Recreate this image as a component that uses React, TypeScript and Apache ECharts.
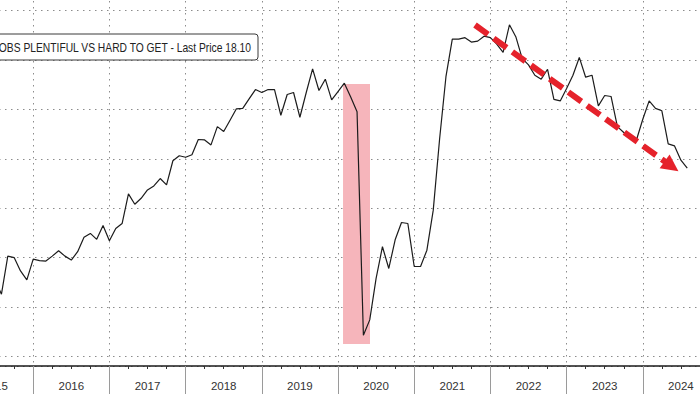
import React, { useEffect, useRef } from "react";
import * as echarts from "echarts";

// ---- data (monthly, plotted at month end) ----
const firstYear = 2015;
const firstMonth = 6; // June 2015
const values2015 = [-4.5, -7.4, 0.3, 0.0, -2.7, -4.5, -0.3];
const values2016 = [-0.6, -0.7, 0.3, 1.4, 0.3, -0.5, 1.2, 4.1, 4.9, 3.7, 6.5, 3.4];
const values2017 = [5.9, 6.9, 12.9, 10.8, 12.0, 13.7, 14.5, 16.0, 14.7, 19.6, 20.6, 20.3];
const values2018 = [20.8, 23.9, 23.8, 22.8, 26.5, 25.5, 27.8, 30.1, 30.2, 32.1, 34.0, 33.4];
const values2019 = [34.0, 34.0, 28.8, 33.0, 33.4, 28.4, 33.4, 38.2, 33.8, 36.1, 31.9, 33.6];
const values2020 = [35.3, 32.5, 29.5, -15.7, -12.6, -4.2, 2.2, -2.2, 3.6, 7.1, 6.9, -1.8];
const values2021 = [-1.8, 1.5, 9.6, 24.0, 36.6, 44.2, 44.2, 44.5, 43.6, 43.8, 44.8, 44.5];
const values2022 = [43.2, 41.5, 47.1, 44.7, 40.3, 39.0, 36.9, 36.1, 38.1, 32.0, 31.7, 34.2];
const values2023 = [36.9, 40.5, 36.5, 36.9, 30.7, 32.8, 32.6, 26.5, 25.3, 24.1, 23.8, 28.0];
const values2024 = [31.7, 30.2, 29.7, 23.0, 22.6, 19.7, 18.1];

const yearLabels = ["2015", "2016", "2017", "2018", "2019", "2020", "2021", "2022", "2023", "2024"];

// shaded recession window (decimal year, value)
const shadeX = [2020.066, 2020.42];
const shadeY = [35.1, -17.5];

// trend arrow (decimal year, value)
const arrowStart = [2021.798, 47.06];
const arrowEnd = [2024.377, 18.47];

const legendText = "JOBS PLENTIFUL VS HARD TO GET - Last Price 18.10";

const yearBlocks = [
  values2015, values2016, values2017, values2018, values2019,
  values2020, values2021, values2022, values2023, values2024,
];

function buildSeries(): [number, number][] {
  const out: [number, number][] = [];
  yearBlocks.forEach((block, i) => {
    const year = firstYear + i;
    const startM = i === 0 ? firstMonth : 1;
    block.forEach((v, j) => {
      const m = startM + j;
      out.push([year + m / 12, v]);
    });
  });
  return out;
}

const FONT = '"Liberation Sans", Arial, sans-serif';

export default function App() {
  const ref = useRef<HTMLDivElement>(null);
  useEffect(() => {
    if (!ref.current) return;
    const chart = echarts.init(ref.current, null, { renderer: "svg" });

    // measure legend text to condense it like the reference font
    let scaleX = 0.8;
    try {
      const c = document.createElement("canvas").getContext("2d");
      if (c) {
        c.font = '13px "Liberation Sans"';
        const w = c.measureText(legendText.slice(1)).width;
        if (w > 0) scaleX = 253 / w;
      }
    } catch (e) {}

    const dotted = { color: "#8c8c8c", type: [1.5, 4.5] as any, width: 1 };

    const option: any = {
      animation: false,
      backgroundColor: "#ffffff",
      grid: {
        left: -43,
        right: -19,
        top: -5,
        bottom: 28,
        containLabel: false,
        outerBoundsMode: "none",
      },
      xAxis: [
        {
          type: "value",
          min: 2015,
          max: 2025,
          interval: 1,
          axisLine: { show: true, onZero: false, lineStyle: { color: "#1a1a1a", width: 1.5 } },
          axisTick: { show: true, length: 28, lineStyle: { color: "#9a9a9a", width: 1 } },
          minorTick: { show: true, splitNumber: 4, length: 3, lineStyle: { color: "#333", width: 1 } },
          axisLabel: { show: false },
          splitLine: { show: true, lineStyle: dotted },
        },
        {
          type: "category",
          data: yearLabels,
          boundaryGap: true,
          position: "bottom",
          axisLine: { show: false, onZero: false },
          axisTick: { show: false },
          splitLine: { show: false },
          axisLabel: { interval: 0, margin: 14, fontSize: 11.5, color: "#333", fontFamily: FONT },
        },
      ],
      yAxis: {
        type: "value",
        min: -21.93,
        max: 53.13,
        minInterval: 10,
        maxInterval: 10,
        axisLine: { show: false },
        axisTick: { show: false },
        axisLabel: { show: false },
        splitLine: { show: true, lineStyle: dotted },
      },
      series: [
        {
          type: "line",
          name: "shade",
          data: [],
          z: 1,
          silent: true,
          markArea: {
            silent: true,
            itemStyle: { color: "#f6b5bb", opacity: 1 },
            data: [[{ coord: [shadeX[0], shadeY[0]] }, { coord: [shadeX[1], shadeY[1]] }]],
          },
        },
        {
          type: "line",
          name: "JOBS PLENTIFUL VS HARD TO GET",
          data: buildSeries(),
          z: 3,
          symbol: "none",
          lineStyle: { color: "#1c1c1c", width: 1.2 },
          silent: true,
        },
        {
          type: "line",
          name: "trend",
          data: [],
          z: 5,
          silent: true,
          markLine: {
            silent: true,
            symbol: ["none", "triangle"],
            symbolSize: 17,
            label: { show: false },
            lineStyle: { color: "#e5222b", width: 6, type: [16, 7], opacity: 1 },
            data: [[{ coord: arrowStart }, { coord: arrowEnd }]],
          },
        },
      ],
      graphic: [
        {
          type: "rect",
          shape: { x: -10, y: 34, width: 268, height: 26, r: 3 },
          style: { fill: "#ffffff", stroke: "#3a3a3a", lineWidth: 1 },
          z: 10,
        },
        {
          type: "text",
          x: 251,
          y: 47.5,
          scaleX: scaleX,
          style: {
            text: legendText,
            align: "right",
            verticalAlign: "middle",
            fontSize: 13,
            fontFamily: FONT,
            fill: "#222",
          },
          z: 11,
        },
      ],
    };
    chart.setOption(option);
    return () => chart.dispose();
  }, []);
  return (
    <div
      ref={ref}
      style={{ position: "fixed", left: 0, top: 0, width: 700, height: 394, background: "#fff" }}
    />
  );
}
